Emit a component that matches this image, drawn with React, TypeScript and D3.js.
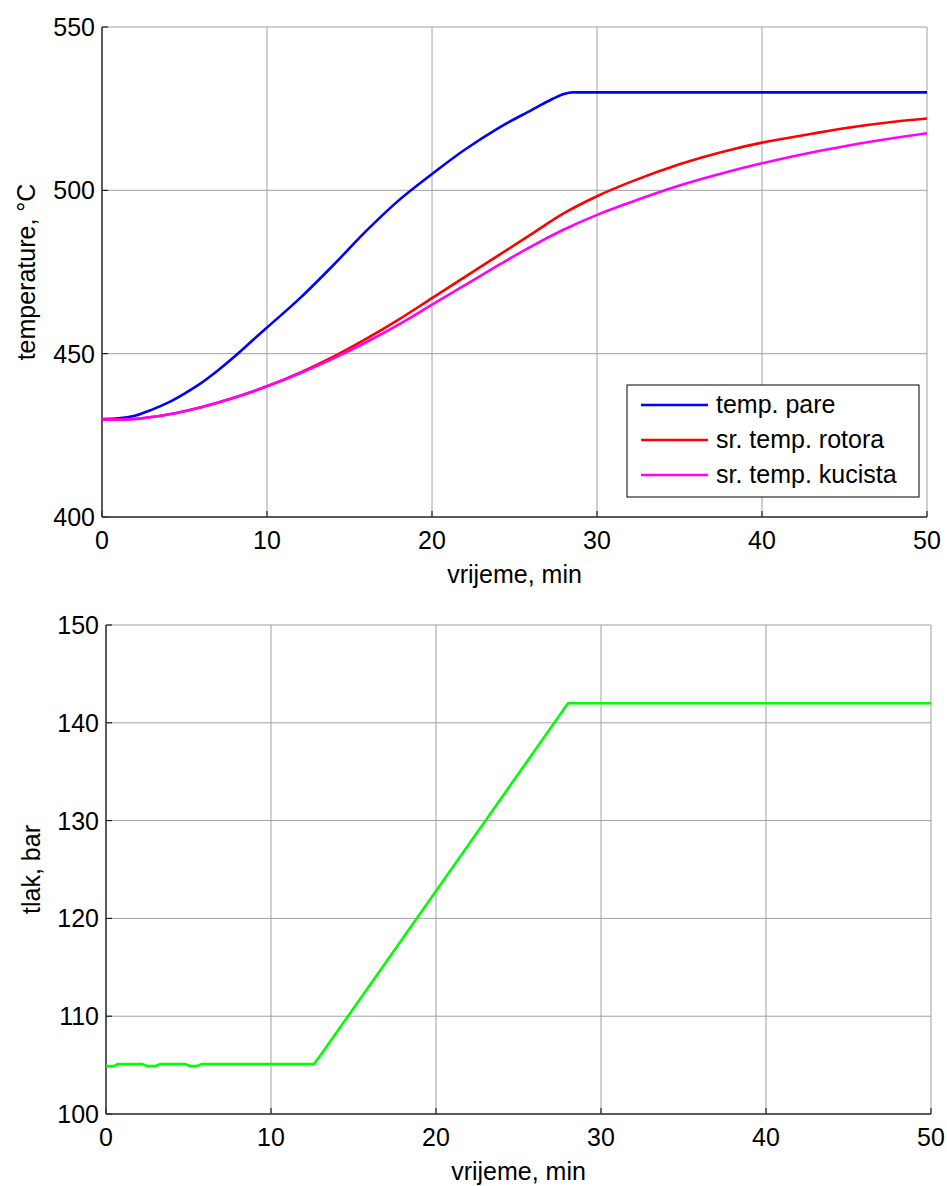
import React from "react";
import * as d3 from "d3";

const tempTime = [0, 1, 2, 3, 4, 5, 6, 7, 8, 9, 10, 12, 14, 16, 18, 20, 22, 24, 26, 27, 28, 28.5, 30, 35, 40, 45, 50];
const tempPare = [430, 430.2, 431, 432.8, 435, 437.8, 441, 444.8, 449, 453.5, 458, 467, 477, 487.5, 497, 505, 512.5, 519, 524.5, 527.2, 529.5, 530, 530, 530, 530, 530, 530];
const rotorTime = [0, 1, 2, 3, 4, 5, 6, 8, 10, 12, 14, 16, 18, 20, 22, 24, 26, 28, 30, 32, 35, 38, 40, 43, 45, 48, 50];
const tempRotor = [429.8, 429.8, 430, 430.6, 431.4, 432.4, 433.6, 436.5, 440, 444.2, 449, 454.5, 460.5, 467, 473.5, 480, 486.5, 493, 498.2, 502.5, 508, 512.3, 514.6, 517.3, 519, 521, 522];
const tempKuciste = [429.8, 429.8, 430, 430.6, 431.4, 432.4, 433.6, 436.5, 440, 444, 448.5, 453.5, 459, 465, 471, 477, 482.8, 488, 492.5, 496.3, 501.5, 505.8, 508.3, 511.6, 513.5, 516, 517.5];

const pressTime = [0, 0.5, 0.7, 2.2, 2.5, 3.0, 3.3, 4.8, 5.1, 5.5, 5.8, 12.6, 13.0, 28.0, 50];
const pressure = [104.9, 104.9, 105.1, 105.1, 104.9, 104.9, 105.1, 105.1, 104.9, 104.9, 105.1, 105.1, 106.0, 142, 142];

const xTicks = [0, 10, 20, 30, 40, 50];
const tempTicks = [400, 450, 500, 550];
const pressTicks = [100, 110, 120, 130, 140, 150];

const legendItems = [
  { label: "temp. pare", color: "#0000ff" },
  { label: "sr. temp. rotora", color: "#ff0000" },
  { label: "sr. temp. kucista", color: "#ff00ff" },
];

const FONT = "Liberation Sans, Arial, sans-serif";
const FS = 25;

type Series = { xs: number[]; ys: number[]; color: string; smooth: boolean };

function Panel(props: {
  left: number; right: number; top: number; bottom: number;
  yDomain: [number, number]; yTicks: number[]; yLabel: string; yLabelX: number;
  series: Series[]; legend?: boolean;
}) {
  const { left, right, top, bottom, yDomain, yTicks, yLabel, yLabelX, series, legend } = props;
  const x = d3.scaleLinear().domain([0, 50]).range([left, right]);
  const y = d3.scaleLinear().domain(yDomain).range([bottom, top]);
  const line = (s: Series) =>
    d3.line<number>().x((_, i) => x(s.xs[i])).y((d) => y(d))
      .curve(s.smooth ? d3.curveMonotoneX : d3.curveLinear)(s.ys) || "";
  return (
    <g>
      {xTicks.map((t) => (
        <line key={"gx" + t} x1={x(t)} x2={x(t)} y1={top} y2={bottom} stroke="#a0a0a0" strokeWidth={1} />
      ))}
      {yTicks.map((t) => (
        <line key={"gy" + t} x1={left} x2={right} y1={y(t)} y2={y(t)} stroke="#a0a0a0" strokeWidth={1} />
      ))}
      {xTicks.map((t) => (
        <line key={"tx" + t} x1={x(t)} x2={x(t)} y1={bottom} y2={bottom - 6} stroke="#000" strokeWidth={1} />
      ))}
      {yTicks.map((t) => (
        <line key={"ty" + t} x1={left} x2={left + 6} y1={y(t)} y2={y(t)} stroke="#000" strokeWidth={1} />
      ))}
      <line x1={left} x2={left} y1={top} y2={bottom} stroke="#333" strokeWidth={1.5} />
      <line x1={left} x2={right} y1={bottom} y2={bottom} stroke="#333" strokeWidth={1.5} />
      {series.map((s, i) => (
        <path key={i} d={line(s)} fill="none" stroke={s.color} strokeWidth={2.6} />
      ))}
      {xTicks.map((t) => (
        <text key={"lx" + t} x={x(t)} y={bottom + 32} textAnchor="middle" fontSize={FS} fontFamily={FONT}>{t}</text>
      ))}
      {yTicks.map((t) => (
        <text key={"ly" + t} x={left - 7} y={y(t) + 9} textAnchor="end" fontSize={FS} fontFamily={FONT}>{t}</text>
      ))}
      <text x={(left + right) / 2} y={bottom + 66} textAnchor="middle" fontSize={FS} fontFamily={FONT}>vrijeme, min</text>
      <text transform={`translate(${yLabelX},${(top + bottom) / 2}) rotate(-90)`} textAnchor="middle" fontSize={FS} fontFamily={FONT}>{yLabel}</text>
      {legend && (
        <g>
          <rect x={627} y={385} width={292} height={112} fill="#fff" stroke="#000" strokeWidth={1} />
          {legendItems.map((it, i) => (
            <g key={it.label}>
              <line x1={641} x2={708} y1={405 + i * 35} y2={405 + i * 35} stroke={it.color} strokeWidth={2.6} />
              <text x={716} y={405 + i * 35 + 8} fontSize={FS} fontFamily={FONT}>{it.label}</text>
            </g>
          ))}
        </g>
      )}
    </g>
  );
}

export default function App() {
  return (
    <svg width={947} height={1186} style={{ display: "block", position: "absolute", left: 0, top: 0, background: "#fff" }}>
      <rect x={0} y={0} width={947} height={1186} fill="#fff" />
      <Panel
        left={102} right={927} top={27} bottom={517}
        yDomain={[400, 550]} yTicks={tempTicks} yLabel="temperature, °C" yLabelX={35}
        series={[
          { xs: tempTime, ys: tempPare, color: "#0000ff", smooth: true },
          { xs: rotorTime, ys: tempRotor, color: "#ff0000", smooth: true },
          { xs: rotorTime, ys: tempKuciste, color: "#ff00ff", smooth: true },
        ]}
        legend
      />
      <Panel
        left={106} right={931} top={625} bottom={1114}
        yDomain={[100, 150]} yTicks={pressTicks} yLabel="tlak, bar" yLabelX={40}
        series={[{ xs: pressTime, ys: pressure, color: "#00ff00", smooth: false }]}
      />
    </svg>
  );
}
